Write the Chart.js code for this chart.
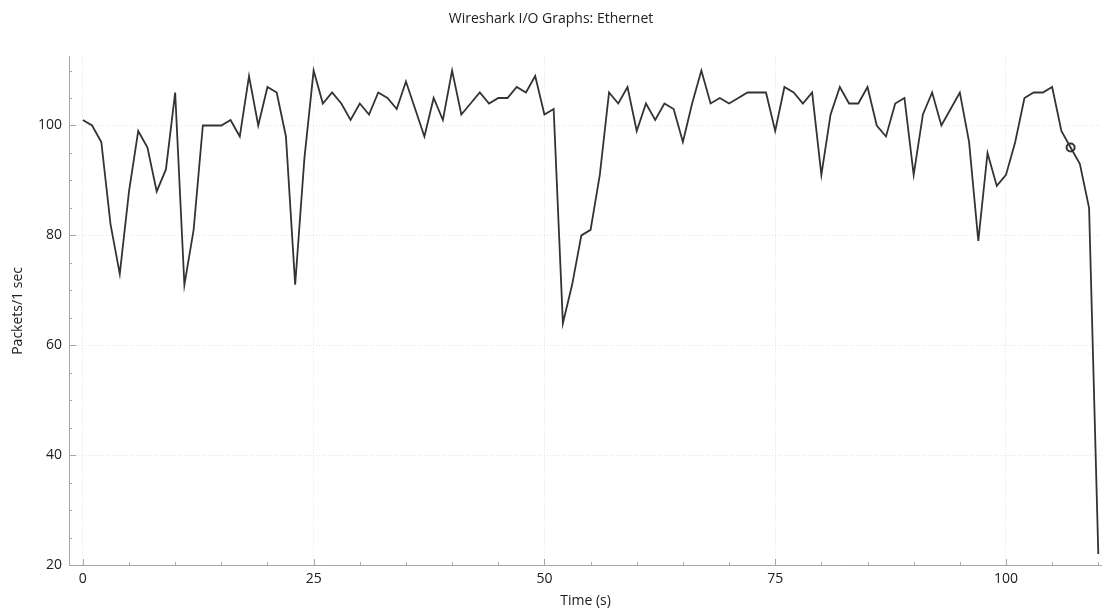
<!DOCTYPE html>
<html>
<head>
<meta charset="utf-8">
<title>Wireshark I/O Graphs: Ethernet</title>
<script src="https://cdn.jsdelivr.net/npm/chart.js@4.4.1/dist/chart.umd.min.js"></script>
<style>
  html, body {
    margin: 0;
    padding: 0;
    background: #ffffff;
  }
  #wrap {
    width: 1102px;
    height: 613px;
  }
</style>
</head>
<body>
<div id="wrap"><canvas id="chartIO"></canvas></div>
<script>
// packets per 1 sec interval, one value per second (t = 0 .. 110)
const packets = [
  101, 100, 97, 82, 73, 88, 99, 96, 88, 92,
  106, 71, 81, 100, 100, 100, 101, 98, 109, 100,
  107, 106, 98, 71, 94, 110, 104, 106, 104, 101,
  104, 102, 106, 105, 103, 108, 103, 98, 105, 101,
  110, 102, 104, 106, 104, 105, 105, 107, 106, 109,
  102, 103, 64, 71, 80, 81, 91, 106, 104, 107,
  99, 104, 101, 104, 103, 97, 104, 110, 104, 105,
  104, 105, 106, 106, 106, 99, 107, 106, 104, 106,
  91, 102, 107, 104, 104, 107, 100, 98, 104, 105,
  91, 102, 106, 100, 103, 106, 97, 79, 95, 89,
  91, 97, 105, 106, 106, 107, 99, 96, 93, 85,
  22
];
const seconds = packets.map((v, i) => i);
const markedSecond = 107;

const xTicks = [0, 25, 50, 75, 100];
const yTicks = [20, 40, 60, 80, 100];

const fontName = "'Open Sans', 'DejaVu Sans', sans-serif";
const lineColor = "#333333";
const axisColor = "#a8a8a8";

const points = seconds.map((s, i) => ({ x: s, y: packets[i] }));

// small tick marks drawn on the inside of the axes, like the Qt plot
function innerTicks() {
  const plugin = {
    id: "innerTicks",
    beforeDatasetsDraw: (chart) => {
      const { ctx, chartArea } = chart;
      const xs = chart.scales.x;
      const ys = chart.scales.y;
      ctx.save();
      ctx.strokeStyle = axisColor;
      ctx.lineWidth = 1;
      ctx.beginPath();
      for (let v = 0; v <= xs.max; v += 5) {
        const px = Math.round(xs.getPixelForValue(v)) + 0.5;
        const len = xTicks.includes(v) ? 6 : 3;
        ctx.moveTo(px, chartArea.bottom);
        ctx.lineTo(px, chartArea.bottom - len);
      }
      for (let v = 20; v <= ys.max; v += 5) {
        const py = Math.round(ys.getPixelForValue(v)) + 0.5;
        const len = yTicks.includes(v) ? 7 : 3;
        ctx.moveTo(chartArea.left, py);
        ctx.lineTo(chartArea.left + len, py);
      }
      ctx.stroke();
      ctx.restore();
    },
  };
  return plugin;
}

const ctx = document.getElementById("chartIO");
new Chart(ctx, {
  type: "line",
  data: {
    datasets: [
      {
        label: "Ethernet",
        data: points,
        borderColor: lineColor,
        borderWidth: 1.8,
        tension: 0,
        fill: false,
        pointRadius: seconds.map((s) => (s === markedSecond ? 4 : 0)),
        pointBorderWidth: 2,
        pointBorderColor: lineColor,
        pointBackgroundColor: "rgba(0,0,0,0)",
        pointHoverRadius: 0,
      },
    ],
  },
  options: {
    responsive: true,
    maintainAspectRatio: false,
    animation: false,
    layout: {
      padding: { left: 0, right: 0, top: 0, bottom: 0 },
    },
    plugins: {
      legend: { display: false },
      tooltip: { enabled: false },
      title: {
        display: true,
        text: "Wireshark I/O Graphs: Ethernet",
        color: "#202020",
        font: { family: fontName, size: 14, weight: "normal" },
        padding: { top: 11, bottom: 29 },
      },
    },
    scales: {
      x: {
        type: "linear",
        min: -1.5,
        max: 110.4,
        afterFit: (scale) => {
          scale.height = 48;
        },
        afterBuildTicks: (scale) => {
          scale.ticks = xTicks.map((v) => ({ value: v }));
        },
        ticks: {
          color: "#202020",
          font: { family: fontName, size: 14 },
          padding: 6,
          maxRotation: 0,
        },
        grid: {
          color: "#e2e2e2",
          drawTicks: false,
        },
        border: {
          color: axisColor,
          width: 1,
          dash: [1, 2],
        },
        title: {
          display: true,
          text: "Time (s)",
          color: "#202020",
          font: { family: fontName, size: 14 },
          padding: { top: 0, bottom: 4 },
        },
      },
      y: {
        type: "linear",
        min: 20,
        max: 112.5,
        afterFit: (scale) => {
          scale.width = 69;
        },
        afterBuildTicks: (scale) => {
          scale.ticks = yTicks.map((v) => ({ value: v }));
        },
        ticks: {
          color: "#202020",
          font: { family: fontName, size: 14 },
          padding: 7,
        },
        grid: {
          color: "#e2e2e2",
          drawTicks: false,
        },
        border: {
          color: axisColor,
          width: 1,
          dash: [1, 2],
        },
        title: {
          display: true,
          text: "Packets/1 sec",
          color: "#202020",
          font: { family: fontName, size: 14 },
          padding: { top: 10, bottom: 0 },
        },
      },
    },
  },
  plugins: [innerTicks()],
});
</script>
</body>
</html>
